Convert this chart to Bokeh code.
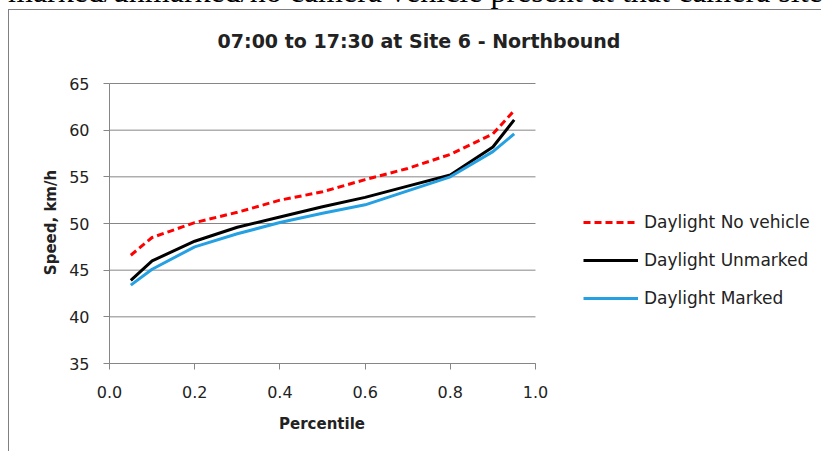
import math
from bokeh.plotting import figure
from bokeh.models import (Legend, LegendItem, FixedTicker, Range1d, Label,
                          PrintfTickFormatter, Div)
from bokeh.layouts import column
from bokeh.embed import file_html
from bokeh.resources import INLINE

# ---- data ----
percentile = [0.05, 0.1, 0.2, 0.3, 0.4, 0.5, 0.6, 0.7, 0.8, 0.9, 0.95]
no_vehicle = [46.6, 48.5, 50.1, 51.2, 52.5, 53.4, 54.7, 55.9, 57.4, 59.6, 62.1]
unmarked = [43.9, 46.0, 48.1, 49.6, 50.7, 51.8, 52.8, 54.0, 55.2, 58.2, 61.1]
marked = [43.4, 45.1, 47.5, 48.9, 50.1, 51.1, 52.0, 53.5, 55.0, 57.7, 59.6]
series_names = ["Daylight No vehicle", "Daylight Unmarked", "Daylight Marked"]
x_ticks = [0.0, 0.2, 0.4, 0.6, 0.8, 1.0]
y_ticks = [35, 40, 45, 50, 55, 60, 65]
title_text = "07:00 to 17:30 at Site 6 - Northbound"
x_label = "Percentile"
y_label = "Speed, km/h"
page_text = "marked/unmarked/no camera vehicle present at that camera site"

FONT = "DejaVu Sans"
TXT = "#222222"
GRID = "#868686"

X_MIN, X_MAX = x_ticks[0], x_ticks[-1]
Y_MIN, Y_MAX = y_ticks[0], y_ticks[-1]

# canvas 813x442; plotting area 426x280 px, 100 px from left, 73 px from top
W, H = 813, 442
PL, PT, PW, PH = 100, 73, 426, 280
PX_PER_X = PW / (X_MAX - X_MIN)
PX_PER_Y = PH / (Y_MAX - Y_MIN)
x_range = Range1d(X_MIN - PL / PX_PER_X, X_MAX + (W - PL - PW) / PX_PER_X)
y_range = Range1d(Y_MIN - (H - PT - PH) / PX_PER_Y, Y_MAX + PT / PX_PER_Y)

p = figure(width=W, height=H, title=None,
           x_range=x_range, y_range=y_range,
           output_backend="svg", toolbar_location=None,
           min_border_left=0, min_border_right=0,
           min_border_top=0, min_border_bottom=0,
           styles={"margin-left": "8px",
                   "border-left": "1px solid #808080",
                   "border-top": "1px solid #808080"})
p.background_fill_color = "white"
p.border_fill_color = "white"
p.outline_line_color = None

# horizontal grid lines across the plotting area only
p.xgrid.grid_line_color = None
p.ygrid.grid_line_color = None
p.segment(x0=[X_MIN] * len(y_ticks), x1=[X_MAX] * len(y_ticks),
          y0=y_ticks, y1=y_ticks, line_color=GRID, line_width=1)

# axes, fixed at the edges of the plotting area
for ax in (p.xaxis[0], p.yaxis[0]):
    ax.axis_line_color = GRID
    ax.major_tick_line_color = GRID
    ax.minor_tick_line_color = None
    ax.major_tick_in = 0
    ax.major_tick_out = 6
    ax.major_label_text_font = FONT
    ax.major_label_text_font_size = "16px"
    ax.major_label_text_color = TXT

p.xaxis.fixed_location = Y_MIN
p.xaxis.ticker = FixedTicker(ticks=x_ticks)
p.xaxis.bounds = (X_MIN, X_MAX)
p.xaxis.formatter = PrintfTickFormatter(format="%.1f")
p.xaxis.major_label_standoff = 16

p.yaxis.fixed_location = X_MIN
p.yaxis.ticker = FixedTicker(ticks=y_ticks)
p.yaxis.bounds = (Y_MIN, Y_MAX)
p.yaxis.formatter = PrintfTickFormatter(format="%d")
p.yaxis.major_label_standoff = 14

# axis titles
p.add_layout(Label(x=312.5, y=29, x_units="screen", y_units="screen",
                   text=x_label, text_align="center", text_baseline="middle",
                   text_font=FONT, text_font_style="bold",
                   text_font_size="15px", text_color=TXT))
p.add_layout(Label(x=41, y=230, x_units="screen", y_units="screen",
                   angle=math.pi / 2,
                   text=y_label, text_align="center", text_baseline="middle",
                   text_font=FONT, text_font_style="bold",
                   text_font_size="15px", text_color=TXT))

# series
r1 = p.line(percentile, no_vehicle, line_color="#FF0000", line_width=3,
            line_dash="7 4")
r2 = p.line(percentile, unmarked, line_color="#000000", line_width=3)
r3 = p.line(percentile, marked, line_color="#25A1E3", line_width=3)

legend = Legend(items=[LegendItem(label=series_names[0], renderers=[r1]),
                       LegendItem(label=series_names[1], renderers=[r2]),
                       LegendItem(label=series_names[2], renderers=[r3])],
                location=(574, 144), orientation="vertical",
                glyph_width=55, glyph_height=20, label_height=20,
                spacing=18, padding=0, margin=0, label_standoff=6,
                border_line_color=None, background_fill_alpha=0,
                label_text_font=FONT, label_text_font_size="17px",
                label_text_color=TXT, label_text_baseline="middle")
p.add_layout(legend, "center")

# chart title
p.add_layout(Label(x=409.5, y=412, x_units="screen", y_units="screen",
                   text=title_text, text_align="center",
                   text_baseline="middle", text_font=FONT,
                   text_font_style="bold", text_font_size="19px",
                   text_color=TXT))

# cut-off document text above the chart
top = Div(text=('<div style="position:relative; top:-25px; left:8px; '
                'font-family:\'Liberation Serif\'; font-size:32px; '
                'line-height:32px; white-space:nowrap; color:#000">'
                + page_text + '</div>'),
          width=822, height=9, margin=0,
          styles={"overflow": "hidden"})

layout = column(top, p, spacing=0)

open("out.html", "w").write(file_html(layout, INLINE))
